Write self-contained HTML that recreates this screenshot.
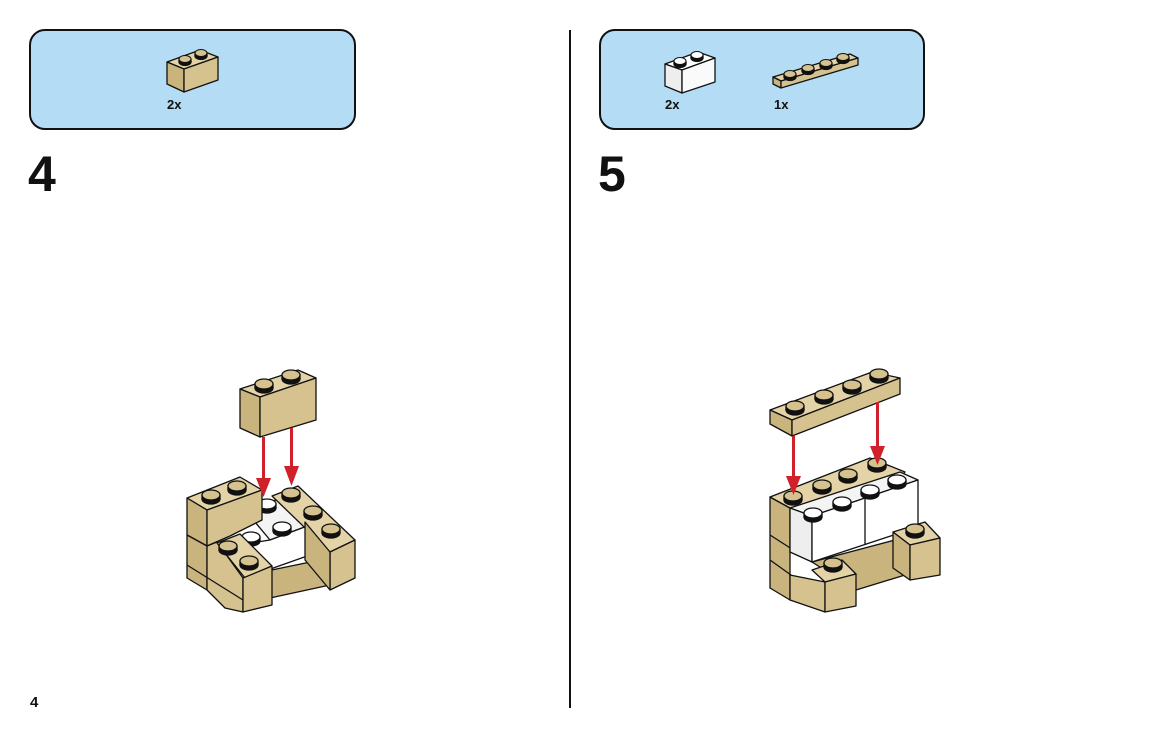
<!DOCTYPE html>
<html><head><meta charset="utf-8"><style>
html,body{margin:0;padding:0;background:#fff;}
body{width:1169px;height:738px;position:relative;overflow:hidden;font-family:"Liberation Sans",Arial,sans-serif;}
</style></head><body>
<svg width="1169" height="738" viewBox="0 0 1169 738" xmlns="http://www.w3.org/2000/svg" style="position:absolute;left:0;top:0">
<defs>
<g id="stud"><ellipse cx="0" cy="3" rx="9" ry="5" fill="#111"/><rect x="-9" y="-1" width="18" height="4" fill="#111"/><ellipse cx="0" cy="-1" rx="9" ry="5" fill="#d6c28e" stroke="#111" stroke-width="1.3"/></g>
<g id="wstud"><ellipse cx="0" cy="3" rx="9" ry="5" fill="#111"/><rect x="-9" y="-1" width="18" height="4" fill="#111"/><ellipse cx="0" cy="-1" rx="9" ry="5" fill="#fff" stroke="#111" stroke-width="1.3"/></g>
<g id="sstud"><ellipse cx="0" cy="2" rx="6" ry="3.5" fill="#111"/><rect x="-6" y="-1" width="12" height="3" fill="#111"/><ellipse cx="0" cy="-1" rx="6" ry="3.5" fill="#d6c28e" stroke="#111" stroke-width="1"/></g>
<g id="swstud"><ellipse cx="0" cy="2" rx="6" ry="3.5" fill="#111"/><rect x="-6" y="-1" width="12" height="3" fill="#111"/><ellipse cx="0" cy="-1" rx="6" ry="3.5" fill="#fff" stroke="#111" stroke-width="1"/></g>
</defs>
<g stroke="#111" stroke-width="1.3" stroke-linejoin="round">
<!-- callouts -->
<rect x="30" y="30" width="325" height="99" rx="15" fill="#b5dcf5" stroke-width="2"/>
<rect x="600" y="30" width="324" height="99" rx="15" fill="#b5dcf5" stroke-width="2"/>
<!-- callout 1 brick -->
<polygon points="167,62 200,50 218,57 184,69" fill="#e3d3a6"/>
<polygon points="167,62 184,69 184,92 167,84" fill="#c9b47e"/>
<polygon points="184,69 218,57 218,80 184,92" fill="#d6c28e"/>
<use href="#sstud" x="185" y="60"/><use href="#sstud" x="201" y="54"/>
<!-- callout 2 white brick -->
<polygon points="665,64 698,52 715,58 682,70" fill="#fff"/>
<polygon points="665,64 682,70 682,93 665,86" fill="#eee"/>
<polygon points="682,70 715,58 715,82 682,93" fill="#fafafa"/>
<use href="#swstud" x="680" y="62"/><use href="#swstud" x="697" y="56"/>
<!-- callout plate -->
<polygon points="773,77 850,54 858,58 781,81" fill="#e3d3a6"/>
<polygon points="773,77 781,81 781,88 773,84" fill="#c9b47e"/>
<polygon points="781,81 858,58 858,65 781,88" fill="#d6c28e"/>
<use href="#sstud" x="790" y="75"/><use href="#sstud" x="808" y="69"/><use href="#sstud" x="826" y="64"/><use href="#sstud" x="843" y="58"/>
</g>
<g font-weight="bold" fill="#111" font-size="13">
<text x="167" y="109">2x</text><text x="665" y="109">2x</text><text x="774" y="109">1x</text>
</g>
<text x="28" y="191" font-size="50" font-weight="bold" fill="#111">4</text>
<text x="598" y="191" font-size="50" font-weight="bold" fill="#111">5</text>
<text x="30" y="707" font-size="15" font-weight="bold" fill="#111">4</text>
<line x1="570" y1="30" x2="570" y2="708" stroke="#111" stroke-width="2"/>

<!-- LEFT MODEL -->
<g stroke="#111" stroke-width="1.3" stroke-linejoin="round">
<!-- base plate -->
<polygon points="262,572 320,560 330,585 270,598" fill="#c9b47e"/>
<!-- white bricks -->
<polygon points="245,510 282,498 310,525 270,540" fill="#f4f4f4"/>
<polygon points="238,545 270,540 310,525 310,555 262,572" fill="#fff"/>
<use href="#wstud" x="267" y="505"/><use href="#wstud" x="282" y="528"/><use href="#wstud" x="251" y="538"/>
<!-- right brick -->
<polygon points="272,496 298,486 355,540 330,552" fill="#e3d3a6"/>
<polygon points="330,552 355,540 355,578 330,590" fill="#d6c28e"/>
<polygon points="305,522 330,552 330,590 305,560" fill="#c9b47e"/>
<use href="#stud" x="291" y="494"/><use href="#stud" x="313" y="512"/><use href="#stud" x="331" y="530"/>
<!-- back-left brick -->
<polygon points="187,498 240,477 262,490 207,510" fill="#e3d3a6"/>
<polygon points="187,498 207,510 207,546 187,535" fill="#c9b47e"/>
<polygon points="207,510 262,490 262,520 230,536 207,546" fill="#d6c28e"/>
<use href="#stud" x="211" y="496"/><use href="#stud" x="237" y="487"/>
<!-- lower-left -->
<polygon points="187,535 207,546 207,590 187,578" fill="#c9b47e"/>
<polygon points="207,546 217,542 243,578 243,612 225,608 207,590" fill="#d6c28e"/>
<line x1="187" y1="565" x2="243" y2="600"/>
<polygon points="217,543 240,534 272,566 245,578" fill="#e3d3a6"/>
<polygon points="243,578 272,566 272,605 243,612" fill="#d6c28e"/>
<use href="#stud" x="228" y="547"/><use href="#stud" x="249" y="562"/>
<!-- top brick -->
<polygon points="240,389 298,370 316,378 260,397" fill="#e3d3a6"/>
<polygon points="240,389 260,397 260,437 240,428" fill="#c9b47e"/>
<polygon points="260,397 316,378 316,420 260,437" fill="#d6c28e"/>
<use href="#stud" x="264" y="385"/><use href="#stud" x="291" y="376"/>
</g>
<g fill="#d0212b" stroke="none">
<rect x="262" y="437" width="3" height="44"/><polygon points="256,478 271,478 263.5,497"/>
<rect x="290" y="428" width="3" height="42"/><polygon points="284,466 299,466 291.5,486"/>
</g>

<!-- RIGHT MODEL -->
<g stroke="#111" stroke-width="1.3" stroke-linejoin="round">
<!-- base -->
<polygon points="812,562 895,540 905,575 856,590" fill="#c9b47e"/>
<!-- left column -->
<polygon points="770,497 790,508 790,600 770,588" fill="#c9b47e"/>
<line x1="770" y1="535" x2="812" y2="562"/><line x1="770" y1="560" x2="812" y2="590"/>
<!-- tan top row -->
<polygon points="770,497 870,458 905,472 900,478 795,512 790,508" fill="#e3d3a6"/>
<!-- white bricks -->
<polygon points="790,508 900,472 918,480 812,516" fill="#f4f4f4"/>
<polygon points="790,508 812,516 812,562 790,552" fill="#eee"/>
<polygon points="812,516 918,480 918,527 812,562" fill="#fff"/>
<line x1="865" y1="498" x2="865" y2="545"/>
<use href="#stud" x="793" y="497"/><use href="#stud" x="822" y="486"/><use href="#stud" x="848" y="475"/><use href="#stud" x="877" y="464"/>
<use href="#wstud" x="813" y="514"/><use href="#wstud" x="842" y="503"/><use href="#wstud" x="870" y="491"/><use href="#wstud" x="897" y="481"/>
<!-- right small brick -->
<polygon points="893,532 925,522 940,538 910,545" fill="#e3d3a6"/>
<polygon points="893,532 910,545 910,580 893,568" fill="#c9b47e"/>
<polygon points="910,545 940,538 940,575 910,580" fill="#d6c28e"/>
<use href="#stud" x="915" y="530"/>
<!-- front small brick -->
<polygon points="812,570 842,560 856,574 825,582" fill="#e3d3a6"/>
<polygon points="790,575 825,582 825,612 790,600" fill="#d6c28e"/>
<polygon points="825,582 856,574 856,606 825,612" fill="#d6c28e"/>
<use href="#stud" x="833" y="564"/>
<!-- plate -->
<polygon points="770,410 872,372 900,378 792,420" fill="#e3d3a6"/>
<polygon points="770,410 792,420 792,436 770,424" fill="#c9b47e"/>
<polygon points="792,420 900,378 900,394 792,436" fill="#d6c28e"/>
<use href="#stud" x="795" y="407"/><use href="#stud" x="824" y="396"/><use href="#stud" x="852" y="386"/><use href="#stud" x="879" y="375"/>
</g>
<g fill="#d0212b" stroke="none">
<rect x="792" y="436" width="3" height="44"/><polygon points="786,476 801,476 793.5,495"/>
<rect x="876" y="402" width="3" height="48"/><polygon points="870,446 885,446 877.5,465"/>
</g>
</svg>
</body></html>
